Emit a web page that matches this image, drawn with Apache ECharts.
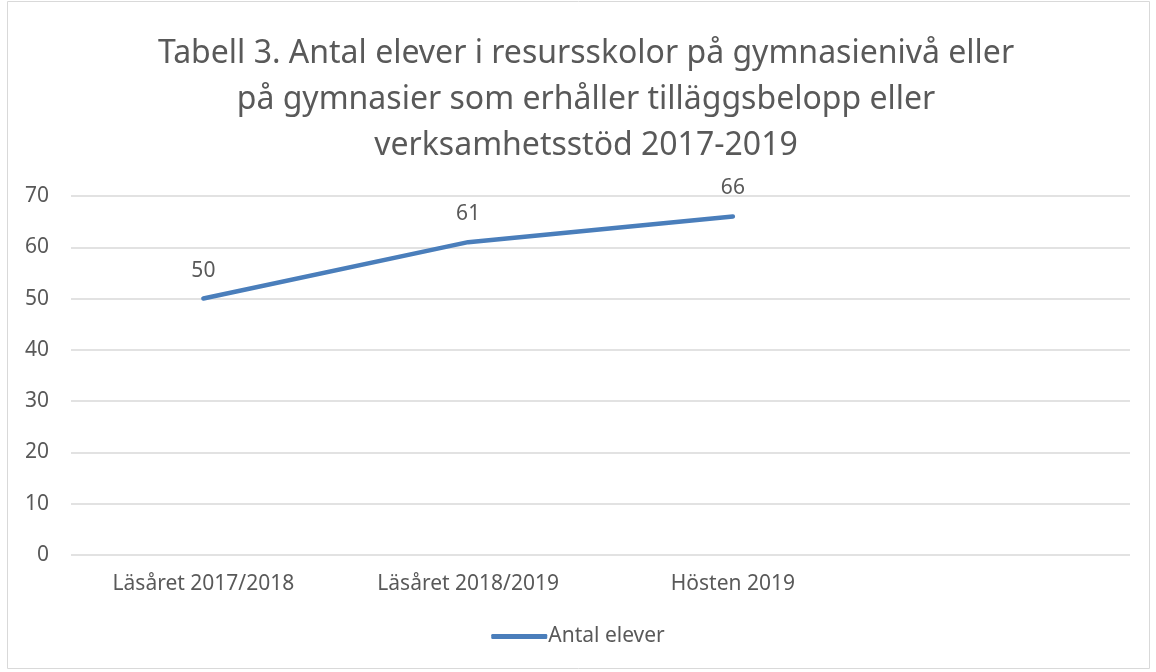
<!DOCTYPE html>
<html>
<head>
<meta charset="utf-8">
<script src="https://cdn.jsdelivr.net/npm/echarts@6/dist/echarts.min.js"></script>
<style>
  html, body { margin: 0; padding: 0; background: #fff; }
  #chart { width: 1156px; height: 672px; }
</style>
</head>
<body>
<div id="chart"></div>
<script>
const categories = ['Läsåret 2017/2018', 'Läsåret 2018/2019', 'Hösten 2019', ''];
const antalElever = [50, 61, 66, null];
const yTicks = [0, 10, 20, 30, 40, 50, 60, 70];

const textColor = '#595959';
const lineColor = '#4a7ebb';
const font = 'Noto Sans';

const chart = echarts.init(document.getElementById('chart'));
chart.setOption({
  animation: false,
  textStyle: { fontFamily: font },
  title: {
    text: 'Tabell 3. Antal elever i resursskolor på gymnasienivå eller\npå gymnasier som erhåller tilläggsbelopp eller\nverksamhetsstöd 2017-2019',
    left: 581,
    top: 26,
    textAlign: 'center',
    textStyle: {
      fontFamily: font,
      fontSize: 32,
      fontWeight: 'normal',
      color: textColor,
      lineHeight: 46
    }
  },
  graphic: [{
    type: 'rect',
    shape: { x: 7.5, y: 1.5, width: 1142, height: 667 },
    style: { fill: 'none', stroke: '#d9d9d9', lineWidth: 1 },
    silent: true
  }],
  legend: {
    bottom: 20,
    left: 'center',
    itemWidth: 56,
    itemHeight: 5,
    itemGap: 0,
    textStyle: { fontFamily: font, fontSize: 21, color: textColor, padding: [0, 0, 0, -4] },
    data: [{
      name: 'Antal elever',
      icon: 'roundRect',
      itemStyle: { color: lineColor, opacity: 1 }
    }]
  },
  grid: {
    left: 71,
    right: 26,
    top: 196,
    bottom: 117,
    containLabel: false
  },
  xAxis: {
    type: 'category',
    data: categories,
    boundaryGap: true,
    axisLine: { show: false },
    axisTick: { show: false },
    axisLabel: { fontSize: 21, color: textColor, margin: 19, fontFamily: font }
  },
  yAxis: {
    type: 'value',
    min: yTicks[0],
    max: yTicks[yTicks.length - 1],
    interval: 10,
    axisLine: { show: false },
    axisTick: { show: false },
    axisLabel: { fontSize: 21, color: textColor, margin: 22, fontFamily: font },
    splitLine: { lineStyle: { color: '#d9d9d9', width: 1.5 } }
  },
  series: [{
    name: 'Antal elever',
    type: 'line',
    data: antalElever,
    symbol: 'circle',
    symbolSize: 1,
    showSymbol: true,
    lineStyle: { color: lineColor, width: 4.5, cap: 'round' },
    itemStyle: { color: lineColor, opacity: 0 },
    label: {
      show: true,
      position: 'top',
      distance: 17,
      fontSize: 21,
      color: textColor,
      fontFamily: font,
      opacity: 1
    }
  }]
});
</script>
</body>
</html>
